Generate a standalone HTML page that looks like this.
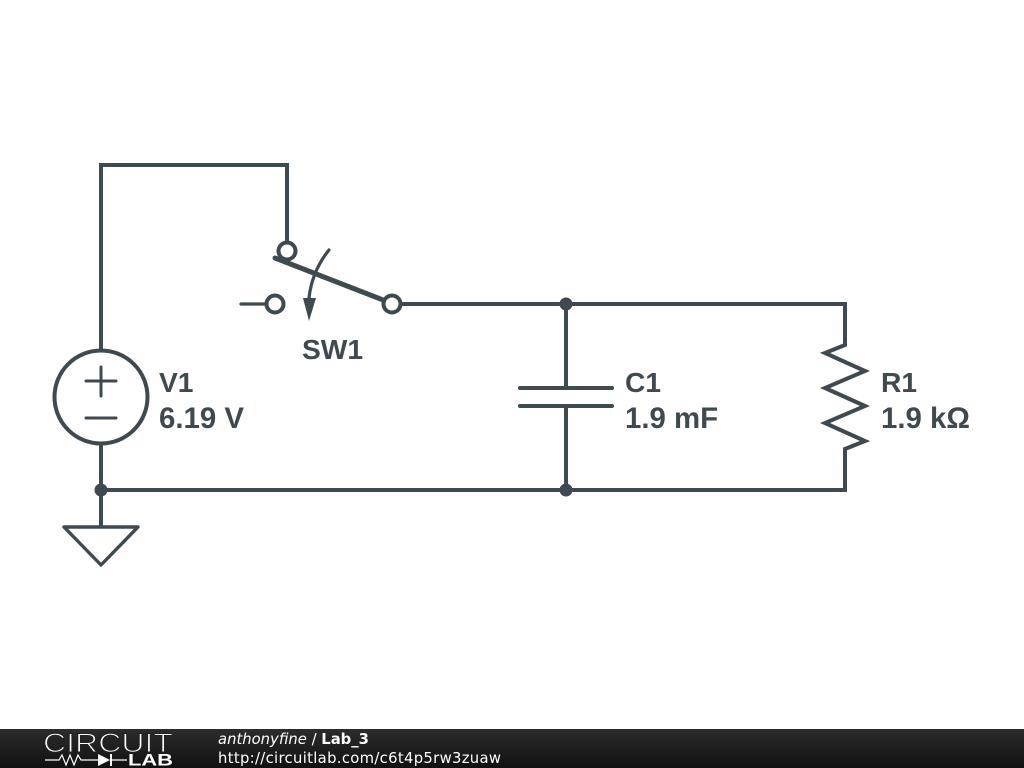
<!DOCTYPE html>
<html>
<head>
<meta charset="utf-8">
<style>
html,body{margin:0;padding:0;background:#fff;width:1024px;height:768px;overflow:hidden}
svg{display:block;position:absolute;left:0;top:0}
.l{font-family:"Liberation Sans",sans-serif;font-weight:700;font-size:29.4px;fill:#3f4a50}
.n{font-size:28.2px}
.f{font-family:"DejaVu Sans",sans-serif;font-size:14.8px;fill:#fff}
</style>
</head>
<body>
<svg width="1024" height="768" viewBox="0 0 1024 768" xmlns="http://www.w3.org/2000/svg">
<defs>
<linearGradient id="g" x1="0" y1="0" x2="0" y2="1"><stop offset="0" stop-color="#2c2c2c"/><stop offset="1" stop-color="#111"/></linearGradient>
</defs>
<rect width="1024" height="768" fill="#fff"/>
<g fill="none" stroke="#3f4a50" stroke-width="4" stroke-linecap="round" stroke-linejoin="miter">
<path d="M101 350V165H287V242" stroke-linecap="butt"/>
<path d="M401 304H845V345L825 353L865 371L825 388L865 406L825 423L865 441L845 449V490H101" stroke-linecap="butt"/>
<path d="M101 444V527" stroke-linecap="butt"/>
<path d="M566 304V388M566 406V490" stroke-linecap="butt"/>
<path d="M520 388H612M520 406H612"/>
<circle cx="101" cy="397" r="46.5"/>
<path d="M86 381H116M101 367V396M86 418H116" stroke-width="3"/>
<path d="M64 527H138L101 565Z" stroke-width="3.4" stroke-linejoin="round"/>
<circle cx="287" cy="251" r="8.5" fill="#fff"/>
<circle cx="275" cy="304" r="8.5" fill="#fff"/>
<circle cx="392" cy="304" r="8.5" fill="#fff"/>
<path d="M241 304H266" stroke-width="3.2"/>
<path d="M275 258L383 300" stroke-width="5"/>
<path d="M329 250Q312 271 309 298" stroke-width="3.2"/>
</g>
<path d="M303 298H316L309 321Z" fill="#3f4a50"/>
<circle cx="101" cy="490" r="6.5" fill="#3f4a50"/>
<circle cx="566" cy="304" r="6.5" fill="#3f4a50"/>
<circle cx="566" cy="490" r="6.5" fill="#3f4a50"/>
<text class="l n" x="302" y="359">SW1</text>
<text class="l n" x="159" y="392">V1</text>
<text class="l" x="159" y="428">6.19 V</text>
<text class="l n" x="625" y="392">C1</text>
<text class="l" x="625" y="428">1.9 mF</text>
<text class="l n" x="881" y="392">R1</text>
<text class="l" x="881" y="428">1.9 kΩ</text>
<rect y="729" width="1024" height="39" fill="url(#g)"/>
<text x="43" y="752" font-family="'Liberation Sans',sans-serif" font-size="26.5" fill="#fff" stroke="#222" stroke-width="1.1" textLength="130" lengthAdjust="spacingAndGlyphs">CIRCUIT</text>
<path d="M45 760H59L62 755L66 765L70 755L74 765L78 755L81 760H98M112 760H127" fill="none" stroke="#fff" stroke-width="1.2"/>
<path d="M98 754L110 760L98 766Z M110 754H112V766H110Z" fill="#fff"/>
<text x="128" y="765.500" font-family="'Liberation Sans',sans-serif" font-weight="700" font-size="17" fill="#fff" textLength="45" lengthAdjust="spacingAndGlyphs">LAB</text>
<text class="f" x="218" y="744"><tspan font-style="italic">anthonyfine</tspan> / <tspan font-weight="700">Lab_3</tspan></text>
<text class="f" x="218" y="763" textLength="283">http://circuitlab.com/c6t4p5rw3zuaw</text>
</svg>
</body>
</html>
